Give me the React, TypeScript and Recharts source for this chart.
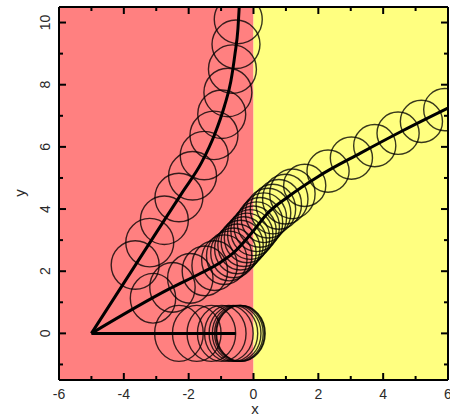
import React from 'react';
import {
  ComposedChart,
  XAxis,
  YAxis,
  Line,
  Scatter,
  ReferenceArea,
  Label,
} from 'recharts';

// Chart frame
const WIDTH = 450;
const HEIGHT = 418;
const LEFT_AXIS_W = 59;
const RIGHT_AXIS_W = 2;
const TOP_AXIS_H = 7;
const BOTTOM_AXIS_H = 38;

const X_DOMAIN: [number, number] = [-6, 6];
const Y_DOMAIN: [number, number] = [-1.5, 10.5];
const X_TICKS = [-6, -5, -4, -3, -2, -1, 0, 1, 2, 3, 4, 5, 6];
const Y_TICKS = [-1, 0, 1, 2, 3, 4, 5, 6, 7, 8, 9, 10];

// Regions
const LEFT_REGION = { x1: -6, x2: 0 };
const RIGHT_REGION = { x1: 0, x2: 6 };

// Trajectories (centre lines)
const pathReflected = [
  { x: -5, y: 0 },
  { x: -0.55, y: 0 },
];
const pathDeflected = [
  { x: -5, y: 0 },
  { x: -3.5, y: 2.43 },
  { x: -2.2, y: 4.53 },
  { x: -1.6, y: 5.5 },
  { x: -1.2, y: 6.4 },
  { x: -0.9, y: 7.3 },
  { x: -0.7, y: 8.1 },
  { x: -0.57, y: 9.0 },
  { x: -0.48, y: 9.8 },
  { x: -0.44, y: 10.5 },
];
const pathTransmitted = [
  { x: -5, y: 0 },
  { x: -2.6, y: 1.43 },
  { x: -1.6, y: 1.95 },
  { x: -1.0, y: 2.3 },
  { x: -0.63, y: 2.58 },
  { x: 0, y: 3.3 },
  { x: 0.42, y: 3.85 },
  { x: 1.1, y: 4.42 },
  { x: 2.0, y: 5.05 },
  { x: 3.3, y: 5.8 },
  { x: 4.6, y: 6.52 },
  { x: 6.0, y: 7.25 },
];

// Packet snapshots along each trajectory
const packetsReflected = [
  { x: -2.3, y: 0 },
  { x: -1.75, y: 0 },
  { x: -1.3, y: 0 },
  { x: -0.98, y: 0 },
  { x: -0.76, y: 0 },
  { x: -0.62, y: 0 },
  { x: -0.52, y: 0 },
  { x: -0.45, y: 0 },
  { x: -0.41, y: 0 },
  { x: -0.39, y: 0 },
];
const packetsDeflected = [
  { x: -3.65, y: 2.2 },
  { x: -3.2, y: 2.92 },
  { x: -2.75, y: 3.64 },
  { x: -2.3, y: 4.37 },
  { x: -1.88, y: 5.07 },
  { x: -1.52, y: 5.72 },
  { x: -1.22, y: 6.37 },
  { x: -0.98, y: 7.05 },
  { x: -0.79, y: 7.75 },
  { x: -0.65, y: 8.5 },
  { x: -0.54, y: 9.3 },
  { x: -0.47, y: 10.1 },
];
const packetsIncoming = [
  { x: -3.1, y: 1.13 },
  { x: -2.5, y: 1.48 },
  { x: -1.95, y: 1.77 },
  { x: -1.5, y: 2.01 },
  { x: -1.2, y: 2.18 },
  { x: -0.9, y: 2.37 },
  { x: -0.75, y: 2.49 },
  { x: -0.62, y: 2.59 },
  { x: -0.5, y: 2.72 },
  { x: -0.4, y: 2.84 },
  { x: -0.3, y: 2.95 },
  { x: -0.2, y: 3.07 },
  { x: -0.1, y: 3.18 },
  { x: 0, y: 3.3 },
  { x: 0.1, y: 3.43 },
  { x: 0.2, y: 3.57 },
  { x: 0.32, y: 3.72 },
  { x: 0.45, y: 3.87 },
  { x: 0.6, y: 4.0 },
  { x: 0.78, y: 4.15 },
  { x: 0.98, y: 4.32 },
  { x: 1.2, y: 4.49 },
];
const packetsOutgoing = [
  { x: 1.58, y: 4.76 },
  { x: 2.3, y: 5.22 },
  { x: 3.02, y: 5.64 },
  { x: 3.74, y: 6.04 },
  { x: 4.46, y: 6.44 },
  { x: 5.18, y: 6.82 },
  { x: 5.9, y: 7.2 },
];

const PLOT_W = WIDTH - LEFT_AXIS_W - RIGHT_AXIS_W;
const PLOT_H = HEIGHT - TOP_AXIS_H - BOTTOM_AXIS_H;
const PX_PER_X = PLOT_W / (X_DOMAIN[1] - X_DOMAIN[0]);
const PX_PER_Y = PLOT_H / (Y_DOMAIN[1] - Y_DOMAIN[0]);

const FONT = '"Liberation Sans", Arial, sans-serif';
const TEXT_COLOR = '#2a2a2a';

// Ellipse outline whose half-widths are given in data units,
// drawn inside a nested viewport so it stays within the plot frame
const packetShape = (rx: number, ry: number) => (props: any) => {
  const { cx, cy } = props;
  if (cx == null || cy == null) return <g />;
  return (
    <svg x={LEFT_AXIS_W} y={TOP_AXIS_H} width={PLOT_W} height={PLOT_H} overflow="hidden">
      <ellipse
        cx={cx - LEFT_AXIS_W}
        cy={cy - TOP_AXIS_H}
        rx={rx * PX_PER_X}
        ry={ry * PX_PER_Y}
        fill="none"
        stroke="#000"
        strokeOpacity={0.78}
        strokeWidth={1.4}
      />
    </svg>
  );
};

const isMajor = (v: number) => Math.abs(v) % 2 === 0;

const BottomTick = (props: any) => {
  const { x, y, payload } = props;
  const v = payload.value;
  const major = isMajor(v);
  return (
    <g>
      <line x1={x} x2={x} y1={y} y2={y - (major ? 7 : 4)} stroke="#000" strokeWidth={2} />
      {major && (
        <text x={x} y={y + 19} textAnchor="middle" fontSize={14} fontFamily={FONT} fill={TEXT_COLOR}>
          {v}
        </text>
      )}
    </g>
  );
};

const TopTick = (props: any) => {
  const { x, y, payload } = props;
  const major = isMajor(payload.value);
  return <line x1={x} x2={x} y1={y} y2={y + (major ? 7 : 4)} stroke="#000" strokeWidth={2} />;
};

const LeftTick = (props: any) => {
  const { x, y, payload } = props;
  const v = payload.value;
  const major = isMajor(v);
  const lx = x - 14;
  return (
    <g>
      <line x1={x} x2={x + (major ? 7 : 4)} y1={y} y2={y} stroke="#000" strokeWidth={2} />
      {major && (
        <text
          x={lx}
          y={y}
          transform={`rotate(-90 ${lx} ${y})`}
          textAnchor="middle"
          dominantBaseline="central"
          fontSize={14}
          fontFamily={FONT}
          fill={TEXT_COLOR}
        >
          {v}
        </text>
      )}
    </g>
  );
};

const RightTick = (props: any) => {
  const { x, y, payload } = props;
  const major = isMajor(payload.value);
  return <line x1={x} x2={x - (major ? 7 : 4)} y1={y} y2={y} stroke="#000" strokeWidth={2} />;
};

export default function App() {
  return (
    <div style={{ position: 'absolute', left: 0, top: 0 }}>
      <ComposedChart
        width={WIDTH}
        height={HEIGHT}
        margin={{ top: 0, right: 0, bottom: 0, left: 0 }}
      >
        <XAxis
          xAxisId="bottom"
          dataKey="x"
          type="number"
          domain={X_DOMAIN}
          ticks={X_TICKS}
          allowDataOverflow
          height={BOTTOM_AXIS_H}
          tickSize={0}
          tickMargin={0}
          tickLine={false}
          interval={0}
          axisLine={{ stroke: '#000', strokeWidth: 2 }}
          tick={<BottomTick />}
        >
          <Label
            content={() => (
              <text x={255} y={414} textAnchor="middle" fontSize={15} fontFamily={FONT} fill={TEXT_COLOR}>
                x
              </text>
            )}
          />
        </XAxis>
        <XAxis
          xAxisId="top"
          orientation="top"
          dataKey="x"
          type="number"
          domain={X_DOMAIN}
          ticks={X_TICKS}
          allowDataOverflow
          height={TOP_AXIS_H}
          tickSize={0}
          tickMargin={0}
          tickLine={false}
          interval={0}
          axisLine={{ stroke: '#000', strokeWidth: 2 }}
          tick={<TopTick />}
        />
        <YAxis
          yAxisId="left"
          dataKey="y"
          type="number"
          domain={Y_DOMAIN}
          ticks={Y_TICKS}
          allowDataOverflow
          width={LEFT_AXIS_W}
          tickSize={0}
          tickMargin={0}
          tickLine={false}
          interval={0}
          axisLine={{ stroke: '#000', strokeWidth: 2 }}
          tick={<LeftTick />}
        >
          <Label
            content={() => (
              <text
                x={19}
                y={193}
                transform="rotate(-90 19 193)"
                textAnchor="middle"
                dominantBaseline="central"
                fontSize={15}
                fontFamily={FONT}
                fill={TEXT_COLOR}
              >
                y
              </text>
            )}
          />
        </YAxis>
        <YAxis
          yAxisId="right"
          orientation="right"
          dataKey="y"
          type="number"
          domain={Y_DOMAIN}
          ticks={Y_TICKS}
          allowDataOverflow
          width={RIGHT_AXIS_W}
          tickSize={0}
          tickMargin={0}
          tickLine={false}
          interval={0}
          axisLine={{ stroke: '#000', strokeWidth: 2 }}
          tick={<RightTick />}
        />

        <ReferenceArea
          xAxisId="bottom"
          yAxisId="left"
          x1={LEFT_REGION.x1}
          x2={LEFT_REGION.x2}
          y1={Y_DOMAIN[0]}
          y2={Y_DOMAIN[1]}
          fill="#FF8080"
          fillOpacity={1}
          stroke="none"
        />
        <ReferenceArea
          xAxisId="bottom"
          yAxisId="left"
          x1={RIGHT_REGION.x1}
          x2={RIGHT_REGION.x2}
          y1={Y_DOMAIN[0]}
          y2={Y_DOMAIN[1]}
          fill="#FFFF80"
          fillOpacity={1}
          stroke="none"
        />

        <Scatter xAxisId="bottom" yAxisId="left" data={packetsReflected} shape={packetShape(0.75, 0.9)} isAnimationActive={false} />
        <Scatter xAxisId="bottom" yAxisId="left" data={packetsDeflected} shape={packetShape(0.74, 0.78)} isAnimationActive={false} />
        <Scatter xAxisId="bottom" yAxisId="left" data={packetsIncoming} shape={packetShape(0.7, 0.8)} isAnimationActive={false} />
        <Scatter xAxisId="bottom" yAxisId="left" data={packetsOutgoing} shape={packetShape(0.65, 0.68)} isAnimationActive={false} />

        <Line xAxisId="bottom" yAxisId="left" data={pathReflected} dataKey="y" type="linear" stroke="#000" strokeWidth={3} dot={false} isAnimationActive={false} />
        <Line xAxisId="bottom" yAxisId="left" data={pathDeflected} dataKey="y" type="monotone" stroke="#000" strokeWidth={3} dot={false} isAnimationActive={false} />
        <Line xAxisId="bottom" yAxisId="left" data={pathTransmitted} dataKey="y" type="monotone" stroke="#000" strokeWidth={3} dot={false} isAnimationActive={false} />
      </ComposedChart>
    </div>
  );
}
